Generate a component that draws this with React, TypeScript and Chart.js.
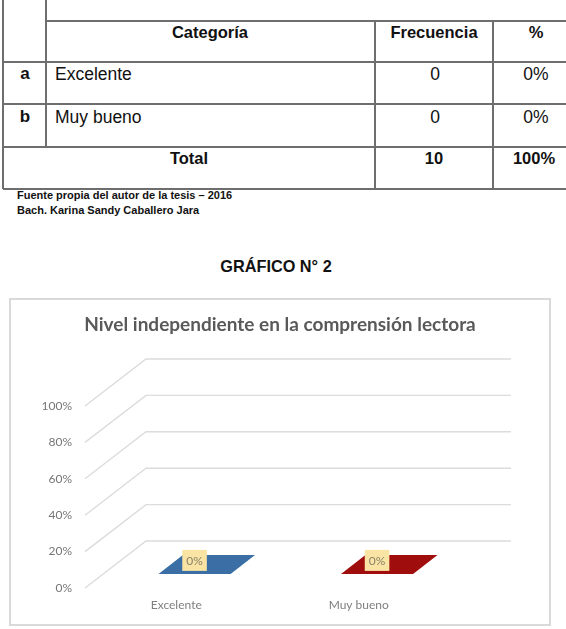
import React, { useEffect, useRef } from "react";
import { Chart, registerables } from "chart.js";

Chart.register(...registerables);

// ---- Chart data ----
const categories = ["Excelente", "Muy bueno"];
const percentValues = [0, 0];
const barColors = ["#3A6EA5", "#A00D0D"];
const yTickValues = [0, 0.2, 0.4, 0.6, 0.8, 1];
const chartTitle = "Nivel independiente en la comprensión lectora";

// ---- Table data ----
const tableHeader = ["Categoría", "Frecuencia", "%"];
const tableLetters = ["a", "b"];
const tableCategories = ["Excelente", "Muy bueno"];
const tableFreq = ["0", "0"];
const tablePct = ["0%", "0%"];
const totalRow = ["Total", "10", "100%"];
const sourceLines = [
  "Fuente propia del autor de la tesis – 2016",
  "Bach. Karina Sandy Caballero Jara",
];
const figureHeading = "GRÁFICO N° 2";

// 3D look constants
const DEPTH_X = 61;
const DEPTH_Y = 47;
const BAR_D0 = 0.3;
const BAR_D1 = 0.7;

function shade(hex: string, f: number) {
  const n = parseInt(hex.slice(1), 16);
  const r = Math.round(((n >> 16) & 255) * f);
  const g = Math.round(((n >> 8) & 255) * f);
  const b = Math.round((n & 255) * f);
  return `rgb(${r},${g},${b})`;
}

const threeDPlugin = {
  id: "threeD",
  beforeDatasetsDraw(chart: any) {
    const { ctx, chartArea: a, scales } = chart;
    const y = scales.y;
    ctx.save();
    ctx.strokeStyle = "#dcdcdc";
    ctx.lineWidth = 1.4;
    y.ticks.forEach((t: any) => {
      const py = y.getPixelForValue(t.value);
      ctx.beginPath();
      ctx.moveTo(a.left, py);
      ctx.lineTo(a.left + DEPTH_X, py - DEPTH_Y);
      ctx.lineTo(a.right + DEPTH_X, py - DEPTH_Y);
      ctx.stroke();
    });
    ctx.restore();
  },
  afterDatasetsDraw(chart: any) {
    const { ctx } = chart;
    const meta = chart.getDatasetMeta(0);
    const ds = chart.data.datasets[0];
    ctx.save();
    meta.data.forEach((el: any, i: number) => {
      const { x, y: top, base, width } = el.getProps(["x", "y", "base", "width"], true);
      const l = x - width / 2;
      const r = x + width / 2;
      const ox0 = BAR_D0 * DEPTH_X, oy0 = BAR_D0 * DEPTH_Y;
      const ox1 = BAR_D1 * DEPTH_X, oy1 = BAR_D1 * DEPTH_Y;
      const color = barColors[i % barColors.length];
      const h = base - top;
      if (h > 0.5) {
        ctx.fillStyle = shade(color, 0.75);
        ctx.beginPath();
        ctx.moveTo(r + ox0, top - oy0);
        ctx.lineTo(r + ox1, top - oy1);
        ctx.lineTo(r + ox1, base - oy1);
        ctx.lineTo(r + ox0, base - oy0);
        ctx.closePath();
        ctx.fill();
        ctx.fillStyle = color;
        ctx.fillRect(l + ox0, top - oy0, width, h);
      }
      ctx.fillStyle = color;
      ctx.beginPath();
      ctx.moveTo(l + ox0, top - oy0);
      ctx.lineTo(r + ox0, top - oy0);
      ctx.lineTo(r + ox1, top - oy1);
      ctx.lineTo(l + ox1, top - oy1);
      ctx.closePath();
      ctx.fill();

      const txt = Math.round(ds.data[i] * 100) + "%";
      ctx.font = "12px Lato, 'Open Sans', sans-serif";
      const tw = ctx.measureText(txt).width;
      const bw = tw + 8;
      const bh = 21;
      const cx = x + ox0;
      const bottom = top - oy0 - 3;
      ctx.fillStyle = "#F9E4A3";
      ctx.fillRect(cx - bw / 2, bottom - bh, bw, bh);
      ctx.fillStyle = "#8a826a";
      ctx.textAlign = "center";
      ctx.textBaseline = "middle";
      ctx.fillText(txt, cx, bottom - bh / 2 + 0.5);
    });
    ctx.restore();
  },
};

function ChartBox() {
  const ref = useRef<HTMLCanvasElement | null>(null);
  useEffect(() => {
    if (!ref.current) return;
    const chart = new Chart(ref.current, {
      type: "bar",
      data: {
        labels: categories,
        datasets: [
          {
            data: percentValues,
            backgroundColor: "rgba(0,0,0,0)",
            borderWidth: 0,
            categoryPercentage: 0.5,
            barPercentage: 0.79,
          },
        ],
      },
      plugins: [threeDPlugin],
      options: {
        animation: false,
        responsive: false,
        maintainAspectRatio: false,
        layout: { padding: 0 },
        plugins: {
          legend: { display: false },
          tooltip: { enabled: false },
          title: {
            display: true,
            text: chartTitle,
            color: "#595959",
            font: { family: "Lato, 'Open Sans', sans-serif", size: 19, weight: "bold", lineHeight: 1.2 },
            padding: { top: 13.6, bottom: 69.6 },
          },
        },
        scales: {
          x: {
            grid: { display: false, drawTicks: false },
            border: { display: false },
            ticks: {
              color: "#7f7f7f",
              font: { family: "Lato, 'Open Sans', sans-serif", size: 12 },
              padding: 10,
            },
            afterFit: (s: any) => {
              s.height = 36;
            },
          },
          y: {
            min: 0,
            max: 1,
            grid: { display: false, drawTicks: false },
            border: { display: false },
            afterBuildTicks: (s: any) => {
              s.ticks = yTickValues.map((v) => ({ value: v }));
            },
            ticks: {
              callback: (v: any) => Math.round(Number(v) * 100) + "%",
              color: "#767676",
              font: { family: "Lato, 'Open Sans', sans-serif", size: 12 },
              padding: 13,
            },
            afterFit: (s: any) => {
              s.width = 74;
            },
          },
          y2: {
            position: "right",
            display: true,
            grid: { display: false, drawTicks: false },
            border: { display: false },
            ticks: { display: false },
            afterFit: (s: any) => {
              s.width = 99;
            },
          },
        },
      } as any,
    });
    return () => chart.destroy();
  }, []);
  return (
    <div
      style={{
        position: "absolute",
        left: 9,
        top: 298,
        width: 538,
        height: 324,
        border: "2px solid #d9d9d9",
        background: "#fff",
      }}
    >
      <canvas ref={ref} width={538} height={324} style={{ display: "block", width: 538, height: 324 }} />
    </div>
  );
}

const LINE = "#6e6e6e";
const font = "'Liberation Sans', Arial, sans-serif";

function HLine({ x1, x2, y }: { x1: number; x2: number; y: number }) {
  return <div style={{ position: "absolute", left: x1, top: y - 0.75, width: x2 - x1, height: 1.5, background: LINE }} />;
}
function VLine({ x, y1, y2 }: { x: number; y1: number; y2: number }) {
  return <div style={{ position: "absolute", left: x - 0.75, top: y1, width: 1.5, height: y2 - y1, background: LINE }} />;
}
function Txt({
  text,
  cx,
  left,
  cy,
  size,
  bold,
}: {
  text: string;
  cx?: number;
  left?: number;
  cy: number;
  size: number;
  bold?: boolean;
}) {
  const lh = 20;
  const style: any = {
    position: "absolute",
    top: cy - lh / 2,
    height: lh,
    lineHeight: lh + "px",
    fontFamily: font,
    fontSize: size,
    fontWeight: bold ? "bold" : "normal",
    color: "#111",
    whiteSpace: "nowrap",
  };
  if (cx !== undefined) {
    style.left = cx - 150;
    style.width = 300;
    style.textAlign = "center";
  } else {
    style.left = left;
  }
  return <div style={style}>{text}</div>;
}

export default function App() {
  const rowY = [74, 117];
  return (
    <div
      style={{
        position: "absolute",
        left: 0,
        top: 0,
        width: 566,
        height: 629,
        overflow: "hidden",
        background: "#fff",
      }}
    >
      <VLine x={3} y1={0} y2={189} />
      <VLine x={46} y1={0} y2={147} />
      <VLine x={375} y1={21} y2={189} />
      <VLine x={493} y1={21} y2={189} />
      <HLine x1={46} x2={566} y={21} />
      <HLine x1={3} x2={566} y={62} />
      <HLine x1={3} x2={566} y={104} />
      <HLine x1={3} x2={566} y={147} />
      <HLine x1={3} x2={566} y={189} />

      <Txt text={tableHeader[0]} cx={210} cy={32} size={16.5} bold />
      <Txt text={tableHeader[1]} cx={434} cy={32} size={16.5} bold />
      <Txt text={tableHeader[2]} cx={536} cy={32} size={16.5} bold />

      {tableLetters.map((l, i) => (
        <React.Fragment key={l}>
          <Txt text={l} cx={25} cy={rowY[i]} size={17} bold />
          <Txt text={tableCategories[i]} left={55} cy={rowY[i]} size={17.5} />
          <Txt text={tableFreq[i]} cx={435} cy={rowY[i]} size={17.5} />
          <Txt text={tablePct[i]} cx={536} cy={rowY[i]} size={17.5} />
        </React.Fragment>
      ))}

      <Txt text={totalRow[0]} cx={189} cy={158} size={16.5} bold />
      <Txt text={totalRow[1]} cx={434} cy={158} size={16.5} bold />
      <Txt text={totalRow[2]} cx={534} cy={158} size={16.5} bold />

      <Txt text={sourceLines[0]} left={17} cy={195} size={11} bold />
      <Txt text={sourceLines[1]} left={17} cy={210} size={11} bold />

      <Txt text={figureHeading} cx={276} cy={266} size={16.3} bold />

      <ChartBox />
    </div>
  );
}
